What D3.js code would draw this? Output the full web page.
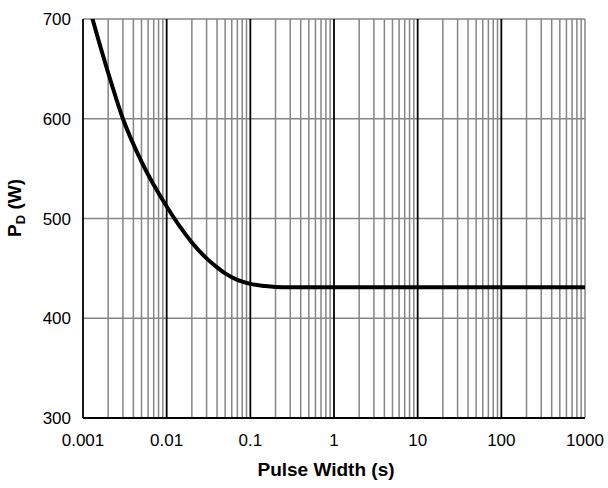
<!DOCTYPE html>
<html>
<head>
<meta charset="utf-8">
<script src="https://cdn.jsdelivr.net/npm/d3@7"></script>
<style>
  body { margin: 0; background: #fff; }
  text { font-family: "Liberation Sans", Arial, sans-serif; fill: #000; }
</style>
</head>
<body>
<svg id="chart" width="608" height="488"></svg>
<script>
// pulse width (s) vs peak power (W)
const pulseWidth = [0.001, 0.0013, 0.002, 0.003, 0.005, 0.01, 0.02, 0.03, 0.04, 0.05, 0.07,  0.1,   0.15,  0.2,   0.3, 1, 10, 100, 1000];
const powerW     = [735,   700,    646,   600,   557,   512,  476,  460,  451,  445,  438.5, 434.5, 432.3, 431.4, 431, 431, 431, 431, 431];

const xTicks = [0.001, 0.01, 0.1, 1, 10, 100, 1000];
const xTickLabels = ["0.001", "0.01", "0.1", "1", "10", "100", "1000"];
const yTicks = [300, 400, 500, 600, 700];

var svg = d3.select("#chart");
// plot box (note: "top" is reserved on window, so use prefixed names)
var pLeft = 83, pRight = 585, pTop = 19, pBottom = 418;

var x = d3.scaleLog().domain([0.001, 1000]).range([pLeft, pRight]);
var y = d3.scaleLinear().domain([300, 700]).range([pBottom, pTop]);

// minor vertical grid (2..9 of each decade)
var minor = [];
for (let e = -3; e < 3; e++) {
  for (let m = 2; m <= 9; m++) minor.push(m * Math.pow(10, e));
}

svg.append("g")
  .selectAll("line")
  .data(minor)
  .join("line")
  .attr("x1", d => x(d)).attr("x2", d => x(d))
  .attr("y1", pTop).attr("y2", pBottom)
  .attr("stroke", "#868686")
  .attr("stroke-width", 1.5);

// horizontal grid, top edge included
svg.append("g")
  .selectAll("line")
  .data(yTicks.slice(1))
  .join("line")
  .attr("x1", pLeft).attr("x2", pRight)
  .attr("y1", d => y(d)).attr("y2", d => y(d))
  .attr("stroke", "#868686")
  .attr("stroke-width", 1.5);

// decade lines
svg.append("g")
  .selectAll("line")
  .data(xTicks.slice(1, -1))
  .join("line")
  .attr("x1", d => x(d)).attr("x2", d => x(d))
  .attr("y1", pTop).attr("y2", pBottom)
  .attr("stroke", "#000")
  .attr("stroke-width", 1.8);

// right border is gray like the grid
svg.append("line")
  .attr("x1", pRight).attr("x2", pRight).attr("y1", pTop).attr("y2", pBottom)
  .attr("stroke", "#868686").attr("stroke-width", 1.5);

// left + bottom axes in black
svg.append("line")
  .attr("x1", pLeft).attr("x2", pLeft).attr("y1", pTop).attr("y2", pBottom)
  .attr("stroke", "#000").attr("stroke-width", 1.8);
svg.append("line")
  .attr("x1", pLeft).attr("x2", pRight).attr("y1", pBottom).attr("y2", pBottom)
  .attr("stroke", "#000").attr("stroke-width", 1.8);

// clip for the curve
svg.append("clipPath").attr("id", "plot-clip")
  .append("rect")
  .attr("x", pLeft).attr("y", pTop)
  .attr("width", pRight - pLeft).attr("height", pBottom - pTop);

var data = pulseWidth.map((d, i) => ({ t: d, p: powerW[i] }));

var line = d3.line()
  .x(d => x(d.t))
  .y(d => y(d.p))
  .curve(d3.curveMonotoneX);

svg.append("path")
  .datum(data)
  .attr("clip-path", "url(#plot-clip)")
  .attr("fill", "none")
  .attr("stroke", "#000")
  .attr("stroke-width", 4)
  .attr("stroke-linejoin", "round")
  .attr("d", line);

// tick labels
svg.append("g")
  .selectAll("text")
  .data(xTicks)
  .join("text")
  .attr("x", d => x(d))
  .attr("y", 446)
  .attr("text-anchor", "middle")
  .attr("font-size", 17)
  .text((d, i) => xTickLabels[i]);

svg.append("g")
  .selectAll("text")
  .data(yTicks)
  .join("text")
  .attr("x", pLeft - 12)
  .attr("y", d => y(d))
  .attr("dy", "0.36em")
  .attr("text-anchor", "end")
  .attr("font-size", 17)
  .text(d => d);

// axis titles
svg.append("text")
  .attr("x", (pLeft + pRight) / 2 - 8)
  .attr("y", 476)
  .attr("text-anchor", "middle")
  .attr("font-size", 19)
  .attr("font-weight", "bold")
  .text("Pulse Width (s)");

var yt = svg.append("text")
  .attr("transform", "translate(21,208) rotate(-90)")
  .attr("text-anchor", "middle")
  .attr("font-size", 19)
  .attr("font-weight", "bold");
yt.append("tspan").text("P");
yt.append("tspan").attr("dy", 4).attr("font-size", 13).text("D");
yt.append("tspan").attr("dy", -4).text(" (W)");
</script>
</body>
</html>
